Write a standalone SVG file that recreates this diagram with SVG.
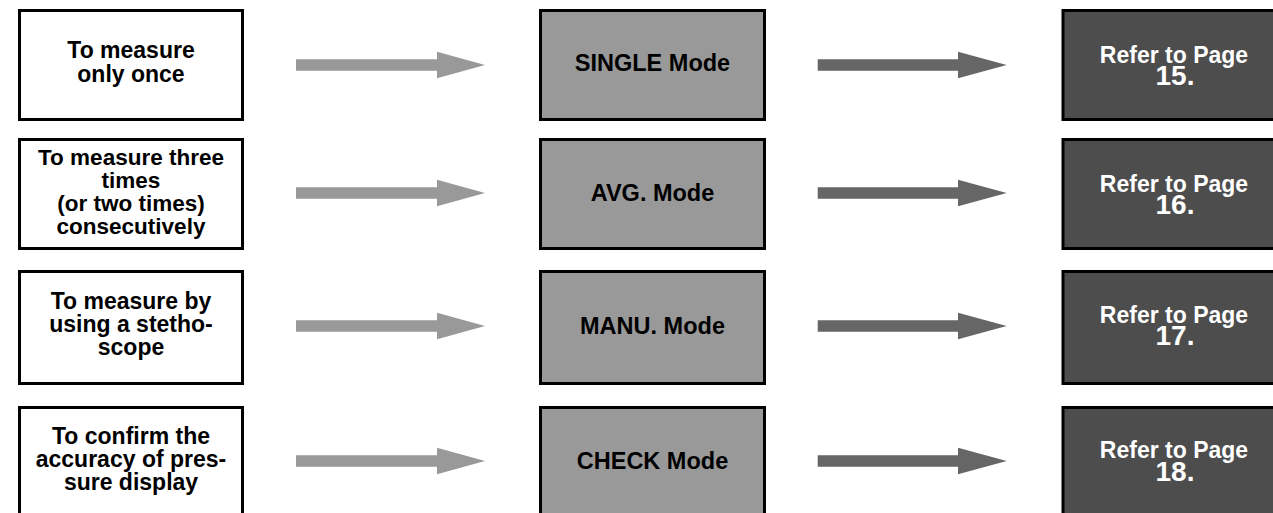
<svg xmlns="http://www.w3.org/2000/svg" width="1273" height="513" viewBox="0 0 1273 513">
<style>
.q{fill:#fff;stroke:#000;stroke-width:3}
.m{fill:#999;stroke:#000;stroke-width:3}
.r{fill:#4d4d4d;stroke:#000;stroke-width:3}
text{font-family:"Liberation Sans",Arial,sans-serif;font-weight:bold;text-anchor:middle}
.tq{font-size:23px;fill:#000}
.tq2{font-size:22.5px;fill:#000}
.tm{font-size:23.5px;fill:#000}
.tr{font-size:23px;fill:#fff}
.tn{font-size:28px;fill:#fff}
.a1{fill:#999}
.a2{fill:#666}
</style>
<defs>
<path id="arr1" d="M296,-5.7 H437 V-13.3 L485,0 L437,13.3 V5.7 H296 Z"/>
<path id="arr2" d="M817.7,-5.7 H958 V-13.3 L1006.7,0 L958,13.3 V5.7 H817.7 Z"/>
</defs>
<g id="connectors">
<use href="#arr1" class="a1" transform="translate(0,65)"/>
<use href="#arr2" class="a2" transform="translate(0,65)"/>
<use href="#arr1" class="a1" transform="translate(0,193)"/>
<use href="#arr2" class="a2" transform="translate(0,193)"/>
<use href="#arr1" class="a1" transform="translate(0,326)"/>
<use href="#arr2" class="a2" transform="translate(0,326)"/>
<use href="#arr1" class="a1" transform="translate(0,461)"/>
<use href="#arr2" class="a2" transform="translate(0,461)"/>
</g>
<g id="q1"><rect class="q" x="19.5" y="10.5" width="223" height="109"/>
<text class="tq" x="131" y="58">To measure</text><text class="tq" x="131" y="81.5">only once</text></g>
<g id="q2"><rect class="q" x="19.5" y="139.5" width="223" height="109"/>
<text class="tq2" x="131" y="165">To measure three</text><text class="tq2" x="131" y="188">times</text><text class="tq2" x="131" y="211">(or two times)</text><text class="tq2" x="131" y="234">consecutively</text></g>
<g id="q3"><rect class="q" x="19.5" y="271.5" width="223" height="112"/>
<text class="tq" x="131" y="309">To measure by</text><text class="tq" x="131" y="332">using a stetho-</text><text class="tq" x="131" y="355">scope</text></g>
<g id="q4"><rect class="q" x="19.5" y="407.5" width="223" height="120"/>
<text class="tq" x="131" y="444">To confirm the</text><text class="tq" x="131" y="467">accuracy of pres-</text><text class="tq" x="131" y="490">sure display</text></g>
<g id="m1"><rect class="m" x="540.5" y="10.5" width="224" height="109"/><text class="tm" x="652.5" y="71">SINGLE Mode</text></g>
<g id="m2"><rect class="m" x="540.5" y="139.5" width="224" height="109"/><text class="tm" x="652.5" y="201">AVG. Mode</text></g>
<g id="m3"><rect class="m" x="540.5" y="271.5" width="224" height="112"/><text class="tm" x="652.5" y="334">MANU. Mode</text></g>
<g id="m4"><rect class="m" x="540.5" y="407.5" width="224" height="120"/><text class="tm" x="652.5" y="469">CHECK Mode</text></g>
<g id="r1"><rect class="r" x="1063" y="10.5" width="230" height="109"/><text class="tr" x="1174" y="63">Refer to Page</text><text class="tn" x="1175" y="85">15.</text></g>
<g id="r2"><rect class="r" x="1063" y="139.5" width="230" height="109"/><text class="tr" x="1174" y="192">Refer to Page</text><text class="tn" x="1175" y="214">16.</text></g>
<g id="r3"><rect class="r" x="1063" y="271.5" width="230" height="112"/><text class="tr" x="1174" y="323">Refer to Page</text><text class="tn" x="1175" y="345">17.</text></g>
<g id="r4"><rect class="r" x="1063" y="407.5" width="230" height="120"/><text class="tr" x="1174" y="458">Refer to Page</text><text class="tn" x="1175" y="481">18.</text></g>
</svg>
